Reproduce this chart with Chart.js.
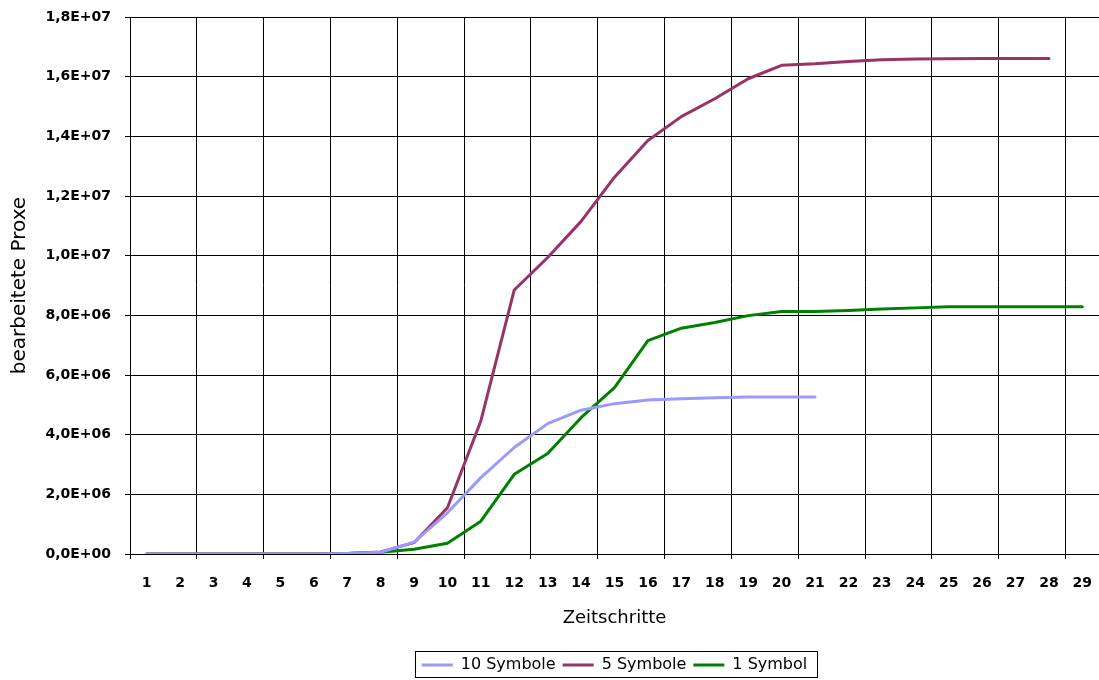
<!DOCTYPE html>
<html>
<head>
<meta charset="utf-8">
<script src="https://cdn.jsdelivr.net/npm/chart.js@4/dist/chart.umd.min.js"></script>
<style>
  body { margin: 0; background: #fff; }
  #wrap { width: 1099px; height: 680px; }
</style>
</head>
<body>
<div id="wrap"><canvas id="myChart" width="1099" height="680"></canvas></div>
<script>
const zeitschritte = ['1','2','3','4','5','6','7','8','9','10','11','12','13','14','15','16','17','18','19','20','21','22','23','24','25','26','27','28','29'];

const zehnSymbole = [0, 0, 0, 0, 0, 0, 20000, 60000, 400000, 1380000, 2560000, 3570000, 4370000, 4820000, 5040000, 5160000, 5200000, 5240000, 5260000, 5260000, 5260000,
  null, null, null, null, null, null, null, null];
const fuenfSymbole = [0, 0, 0, 0, 0, 0, 20000, 70000, 380000, 1550000, 4460000, 8850000, 9940000, 11150000, 12630000, 13860000, 14660000, 15260000, 15930000, 16380000, 16430000,
  16510000, 16570000, 16590000, 16600000, 16610000, 16610000, 16610000, null];
const einSymbol = [0, 0, 0, 0, 0, 0, 20000, 60000, 160000, 360000, 1100000, 2670000, 3370000, 4570000, 5580000, 7150000, 7570000, 7760000, 7990000, 8130000, 8130000,
  8160000, 8210000, 8250000, 8290000, 8290000, 8290000, 8290000, 8290000];

const yMax = 18000000;
const yStep = 2000000;

// Excel style labels: 1,8E+07
function excelExp(v) {
  if (v === 0) return '0,0E+00';
  const [m, e] = v.toExponential(1).split('e');
  const n = Math.abs(parseInt(e, 10));
  return m.replace('.', ',') + 'E' + (parseInt(e, 10) < 0 ? '-' : '+') + (n < 10 ? '0' + n : n);
}

const LEG_PAD = 7;
const LEG_FONT = 16;

// legend sits under the plot area, not the canvas, and has a frame
const legendFrame = {
  id: 'legendFrame',
  afterLayout(chart) {
    const lg = chart.legend, ca = chart.chartArea;
    const shift = (ca.left + ca.right) / 2 - (lg.left + lg.right) / 2;
    lg.left += shift;
    lg.right += shift;
    lg.top += 3;
    lg.bottom += 3;
  },
  afterDraw(chart) {
    const lg = chart.legend;
    if (!lg.lineWidths || !lg.lineWidths.length) return;
    const lw = lg.lineWidths[0];
    const x0 = (lg.left + LEG_PAD + lg.right - lw) / 2;
    const y0 = lg.top + LEG_PAD;
    const ctx = chart.ctx;
    ctx.save();
    ctx.strokeStyle = '#000';
    ctx.lineWidth = 1;
    ctx.strokeRect(Math.round(x0 - 7) + 0.5, Math.round(y0 - 6) + 0.5, Math.round(lw - LEG_PAD + 17), LEG_FONT + 10);
    ctx.restore();
  }
};

Chart.defaults.color = '#000';
Chart.defaults.font.family = '"DejaVu Sans", Arial, sans-serif';

new Chart(document.getElementById('myChart'), {
  type: 'line',
  data: {
    labels: zeitschritte,
    datasets: [
      { label: '10 Symbole', data: zehnSymbole, borderColor: '#9999ff', backgroundColor: '#9999ff' },
      { label: '5 Symbole', data: fuenfSymbole, borderColor: '#993366', backgroundColor: '#993366' },
      { label: '1 Symbol', data: einSymbol, borderColor: '#008000', backgroundColor: '#008000' }
    ]
  },
  options: {
    responsive: false,
    animation: false,
    layout: { padding: { top: 17, right: 0, bottom: 0, left: 0 } },
    elements: {
      line: { borderWidth: 3, tension: 0, borderCapStyle: 'round', borderJoinStyle: 'round' },
      point: { radius: 0 }
    },
    plugins: {
      tooltip: { enabled: false },
      legend: {
        position: 'bottom',
        labels: {
          boxWidth: 31,
          boxHeight: 3,
          padding: LEG_PAD,
          font: { size: LEG_FONT },
          generateLabels(chart) {
            return Chart.defaults.plugins.legend.labels.generateLabels(chart).map(it => ({ ...it, lineWidth: 0 }));
          }
        }
      }
    },
    scales: {
      x: {
        offset: true,
        afterFit(s) { s.height = 93; s.paddingLeft = 0; s.paddingRight = 0; },
        grid: {
          offset: true,
          color: c => (c.index % 2 === 0 ? '#000' : 'rgba(0,0,0,0)'),
          lineWidth: 1,
          tickLength: 5
        },
        border: { display: true, color: '#000' },
        ticks: { autoSkip: false, maxRotation: 0, padding: 16, font: { size: 14, weight: 'bold' } },
        title: { display: true, text: 'Zeitschritte', font: { size: 18 }, padding: { top: 0, bottom: 18 } }
      },
      y: {
        min: 0,
        max: yMax,
        afterFit(s) { s.width = 130; s.paddingTop = 0; s.paddingBottom = 0; },
        grid: { color: '#000', lineWidth: 1, tickLength: 5 },
        border: { display: true, color: '#000' },
        ticks: { stepSize: yStep, padding: 14, font: { size: 14, weight: 'bold' }, callback: v => excelExp(v) },
        title: { display: true, text: 'bearbeitete Proxe', font: { size: 20 }, padding: { top: 8, bottom: 0 } }
      }
    }
  },
  plugins: [legendFrame]
});
</script>
</body>
</html>
